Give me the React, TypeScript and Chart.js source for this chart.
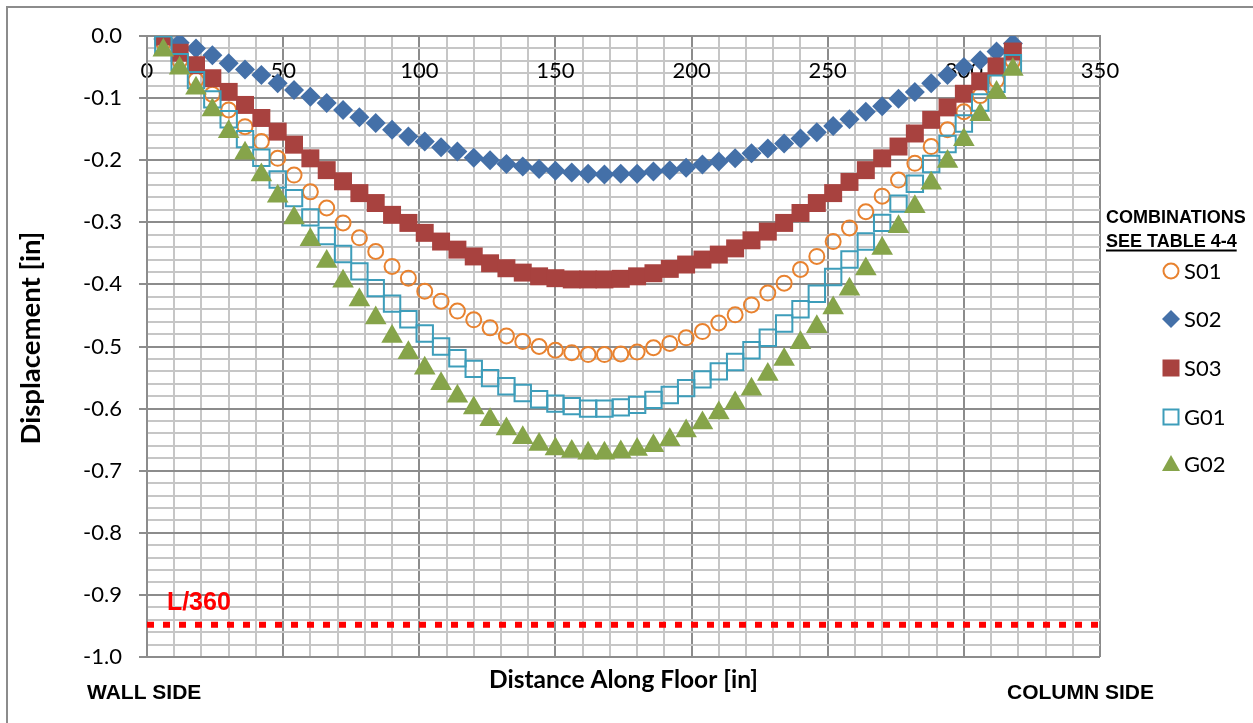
import React, { useEffect, useRef } from 'react';
import { Chart, registerables } from 'chart.js';

Chart.register(...registerables);

// ---- data (inches along floor / displacement in inches) ----
const xPositions = [6, 12, 18, 24, 30, 36, 42, 48, 54, 60, 66, 72, 78, 84, 90, 96, 102, 108, 114, 120, 126, 132, 138, 144, 150, 156, 162, 168, 174, 180, 186, 192, 198, 204, 210, 216, 222, 228, 234, 240, 246, 252, 258, 264, 270, 276, 282, 288, 294, 300, 306, 312, 318];

const s01 = [-0.010, -0.040, -0.071, -0.094, -0.119, -0.146, -0.170, -0.197, -0.224, -0.251, -0.277, -0.301, -0.325, -0.347, -0.371, -0.390, -0.411, -0.427, -0.443, -0.457, -0.470, -0.483, -0.492, -0.500, -0.506, -0.510, -0.513, -0.513, -0.512, -0.509, -0.502, -0.495, -0.486, -0.476, -0.462, -0.449, -0.433, -0.414, -0.398, -0.376, -0.355, -0.331, -0.309, -0.283, -0.258, -0.232, -0.205, -0.178, -0.151, -0.122, -0.096, -0.071, -0.040];

const s02 = [-0.005, -0.011, -0.020, -0.031, -0.044, -0.054, -0.063, -0.076, -0.087, -0.098, -0.108, -0.119, -0.131, -0.140, -0.151, -0.162, -0.170, -0.179, -0.186, -0.196, -0.200, -0.206, -0.210, -0.214, -0.217, -0.220, -0.222, -0.223, -0.222, -0.222, -0.218, -0.216, -0.212, -0.207, -0.202, -0.197, -0.189, -0.181, -0.173, -0.165, -0.155, -0.145, -0.134, -0.122, -0.113, -0.101, -0.090, -0.076, -0.063, -0.050, -0.039, -0.025, -0.012];

const s03 = [-0.001, -0.027, -0.047, -0.068, -0.090, -0.111, -0.132, -0.154, -0.175, -0.197, -0.216, -0.234, -0.253, -0.269, -0.288, -0.301, -0.317, -0.331, -0.344, -0.355, -0.366, -0.374, -0.381, -0.387, -0.390, -0.392, -0.392, -0.392, -0.391, -0.387, -0.382, -0.375, -0.368, -0.360, -0.352, -0.342, -0.329, -0.315, -0.301, -0.285, -0.269, -0.253, -0.235, -0.216, -0.197, -0.178, -0.157, -0.135, -0.115, -0.093, -0.073, -0.049, -0.025];

const g01 = [-0.014, -0.042, -0.071, -0.102, -0.134, -0.166, -0.196, -0.231, -0.261, -0.292, -0.322, -0.351, -0.379, -0.406, -0.431, -0.456, -0.479, -0.500, -0.519, -0.536, -0.551, -0.564, -0.575, -0.585, -0.592, -0.596, -0.600, -0.600, -0.598, -0.594, -0.586, -0.578, -0.567, -0.553, -0.540, -0.525, -0.506, -0.486, -0.463, -0.440, -0.415, -0.388, -0.360, -0.331, -0.301, -0.270, -0.238, -0.206, -0.174, -0.141, -0.107, -0.077, -0.044];

const g02 = [-0.023, -0.052, -0.084, -0.119, -0.154, -0.189, -0.224, -0.258, -0.293, -0.328, -0.363, -0.395, -0.425, -0.454, -0.484, -0.510, -0.535, -0.560, -0.580, -0.599, -0.618, -0.633, -0.647, -0.658, -0.665, -0.669, -0.672, -0.672, -0.670, -0.666, -0.660, -0.650, -0.636, -0.623, -0.607, -0.591, -0.569, -0.545, -0.521, -0.494, -0.468, -0.438, -0.408, -0.375, -0.342, -0.307, -0.275, -0.237, -0.202, -0.167, -0.127, -0.091, -0.054];

const limitX = [0, 350];
const limitValue = -0.948;
const limitLabel = 'L/360';

const seriesNames = ['S01', 'S02', 'S03', 'G01', 'G02'];
const legendHeader = ['COMBINATIONS', 'SEE TABLE 4-4'];
const xTitle = 'Distance Along Floor [in]';
const yTitle = 'Displacement [in]';
const sideLabels = ['WALL SIDE', 'COLUMN SIDE'];

// ---- styles ----
const C_S01 = '#E8822F';
const C_S02 = '#4470A8';
const C_S03 = '#A8423F';
const C_G01 = '#3D9DBA';
const C_G02 = '#86A44A';
const GRID_MAJOR = '#8C8C8C';
const GRID_MINOR = '#C6C6C6';
const TICK_FONT = 'Lato';
const BOLD_FONT = '"Liberation Sans", Arial, sans-serif';

const W = 1253;
const H = 723;

const pts = (ys: number[]) => xPositions.map((x, i) => ({ x, y: ys[i] }));

const isMajorY = (v: number) => Math.round(v * 100) % 10 === 0;
const isMajorX = (v: number) => Math.round(v) % 50 === 0;

function drawMarker(ctx: CanvasRenderingContext2D, kind: string, x: number, y: number, color: string) {
  ctx.save();
  ctx.beginPath();
  if (kind === 'circle') {
    ctx.arc(x, y, 7.5, 0, Math.PI * 2);
    ctx.strokeStyle = color;
    ctx.lineWidth = 2;
    ctx.stroke();
  } else if (kind === 'diamond') {
    ctx.moveTo(x - 9, y);
    ctx.lineTo(x, y - 9);
    ctx.lineTo(x + 9, y);
    ctx.lineTo(x, y + 9);
    ctx.closePath();
    ctx.fillStyle = color;
    ctx.fill();
  } else if (kind === 'square') {
    ctx.fillStyle = color;
    ctx.fillRect(x - 8.5, y - 8.5, 17, 17);
  } else if (kind === 'hollow') {
    ctx.strokeStyle = color;
    ctx.lineWidth = 2;
    ctx.strokeRect(x - 7.5, y - 7.5, 15, 15);
  } else if (kind === 'triangle') {
    ctx.moveTo(x, y - 9);
    ctx.lineTo(x + 9, y + 7);
    ctx.lineTo(x - 9, y + 7);
    ctx.closePath();
    ctx.fillStyle = color;
    ctx.fill();
  }
  ctx.restore();
}

const decorPlugin = {
  id: 'decor',
  afterDraw(chart: any) {
    const ctx: CanvasRenderingContext2D = chart.ctx;
    const area = chart.chartArea;
    ctx.save();

    // outer frame (top and left edges visible)
    ctx.strokeStyle = '#8C8C8C';
    ctx.lineWidth = 2;
    ctx.beginPath();
    ctx.moveTo(7, H);
    ctx.lineTo(7, 7);
    ctx.lineTo(W, 7);
    ctx.stroke();

    // axis titles
    ctx.fillStyle = '#000';
    ctx.textAlign = 'center';
    ctx.textBaseline = 'middle';
    ctx.font = 'bold 24.5px Lato';
    ctx.fillText(xTitle, (area.left + area.right) / 2, 680);
    ctx.save();
    ctx.translate(31, 338);
    ctx.rotate(-Math.PI / 2);
    ctx.font = 'bold 27.5px Lato';
    ctx.fillText(yTitle, 0, 0);
    ctx.restore();

    // side labels
    ctx.font = 'bold 21px ' + BOLD_FONT;
    ctx.textAlign = 'left';
    ctx.textBaseline = 'alphabetic';
    ctx.fillText(sideLabels[0], 87, 699);
    ctx.fillText(sideLabels[1], 1007, 699);

    // limit label
    const yScale = chart.scales.y;
    const xScale = chart.scales.x;
    ctx.fillStyle = '#FF0000';
    ctx.font = 'bold 25px ' + BOLD_FONT;
    ctx.fillText(limitLabel, xScale.getPixelForValue(7.3), yScale.getPixelForValue(limitValue) - 15);

    // legend header
    ctx.fillStyle = '#000';
    ctx.font = 'bold 18px ' + BOLD_FONT;
    ctx.fillText(legendHeader[0], 1106, 223);
    ctx.fillText(legendHeader[1], 1106, 247);
    const uw = ctx.measureText(legendHeader[1]).width;
    ctx.fillRect(1106, 249.5, uw, 2);

    // legend items
    const kinds = ['circle', 'diamond', 'square', 'hollow', 'triangle'];
    const colors = [C_S01, C_S02, C_S03, C_G01, C_G02];
    const ys = [271, 319, 368, 417, 464];
    ctx.font = '22px ' + TICK_FONT;
    ctx.textBaseline = 'middle';
    for (let i = 0; i < seriesNames.length; i++) {
      drawMarker(ctx, kinds[i], 1171, ys[i], colors[i]);
      ctx.fillStyle = '#000';
      ctx.fillText(seriesNames[i], 1184, ys[i] + 1);
    }
    ctx.restore();
  },
};

export default function App() {
  const ref = useRef<HTMLCanvasElement>(null);

  useEffect(() => {
    if (!ref.current) return;
    const chart = new Chart(ref.current, {
      type: 'scatter',
      data: {
        datasets: [
          {
            label: limitLabel,
            data: limitX.map((x) => ({ x, y: limitValue })),
            showLine: true,
            borderColor: '#FF0000',
            borderWidth: 6,
            borderDash: [7, 9],
            borderCapStyle: 'butt',
            pointRadius: 0,
            order: 0,
          } as any,
          {
            label: seriesNames[0],
            data: pts(s01),
            pointStyle: 'circle',
            pointRadius: 7.5,
            pointBorderWidth: 2,
            pointBorderColor: C_S01,
            pointBackgroundColor: 'rgba(0,0,0,0)',
            order: 5,
          },
          {
            label: seriesNames[1],
            data: pts(s02),
            pointStyle: 'rectRot',
            pointRadius: 10,
            pointBorderWidth: 0,
            pointBorderColor: C_S02,
            pointBackgroundColor: C_S02,
            order: 4,
          },
          {
            label: seriesNames[2],
            data: pts(s03),
            pointStyle: 'rect',
            pointRadius: 12.7,
            pointBorderWidth: 0,
            pointBorderColor: C_S03,
            pointBackgroundColor: C_S03,
            order: 3,
          },
          {
            label: seriesNames[3],
            data: pts(g01),
            pointStyle: 'rect',
            pointRadius: 11.6,
            pointBorderWidth: 2,
            pointBorderColor: C_G01,
            pointBackgroundColor: 'rgba(0,0,0,0)',
            order: 2,
          },
          {
            label: seriesNames[4],
            data: pts(g02),
            pointStyle: 'triangle',
            pointRadius: 12.5,
            pointBorderWidth: 0,
            pointBorderColor: C_G02,
            pointBackgroundColor: C_G02,
            order: 1,
          },
        ],
      },
      options: {
        animation: false,
        responsive: false,
        events: [],
        layout: { padding: { left: 0, top: 36, right: W - 1100, bottom: H - 657 } },
        plugins: { legend: { display: false }, tooltip: { enabled: false }, title: { display: false } },
        scales: {
          x: {
            type: 'linear',
            min: 0,
            max: 350,
            position: { y: 0 } as any,
            ticks: {
              stepSize: 10,
              autoSkip: false,
              maxRotation: 0,
              padding: 22,
              color: '#000',
              font: { family: TICK_FONT, size: 22 },
              callback: (v: any) => (isMajorX(Number(v)) ? String(v) : ''),
            },
            grid: {
              drawTicks: false,
              lineWidth: 2,
              color: (c: any) => (isMajorX(c.tick.value) ? GRID_MAJOR : GRID_MINOR),
            },
            border: { display: true, color: GRID_MAJOR, width: 2 },
          },
          y: {
            type: 'linear',
            min: -1,
            max: 0,
            afterFit: (s: any) => {
              s.width = 147;
            },
            ticks: {
              stepSize: 0.02,
              autoSkip: false,
              padding: 17,
              color: '#000',
              font: { family: TICK_FONT, size: 22 },
              callback: (v: any) => (isMajorY(Number(v)) ? Number(v).toFixed(1) : ''),
            },
            grid: {
              drawTicks: true,
              tickLength: 8,
              lineWidth: 2,
              color: (c: any) => (isMajorY(c.tick.value) ? GRID_MAJOR : GRID_MINOR),
              tickColor: (c: any) => (isMajorY(c.tick.value) ? GRID_MAJOR : 'rgba(0,0,0,0)'),
            },
            border: { display: true, color: GRID_MAJOR, width: 2 },
          },
        },
      },
      plugins: [decorPlugin],
    });
    return () => chart.destroy();
  }, []);

  return (
    <div style={{ position: 'fixed', left: 0, top: 0, width: W, height: H, background: '#fff' }}>
      <canvas ref={ref} width={W} height={H} style={{ width: W, height: H, display: 'block' }} />
    </div>
  );
}
